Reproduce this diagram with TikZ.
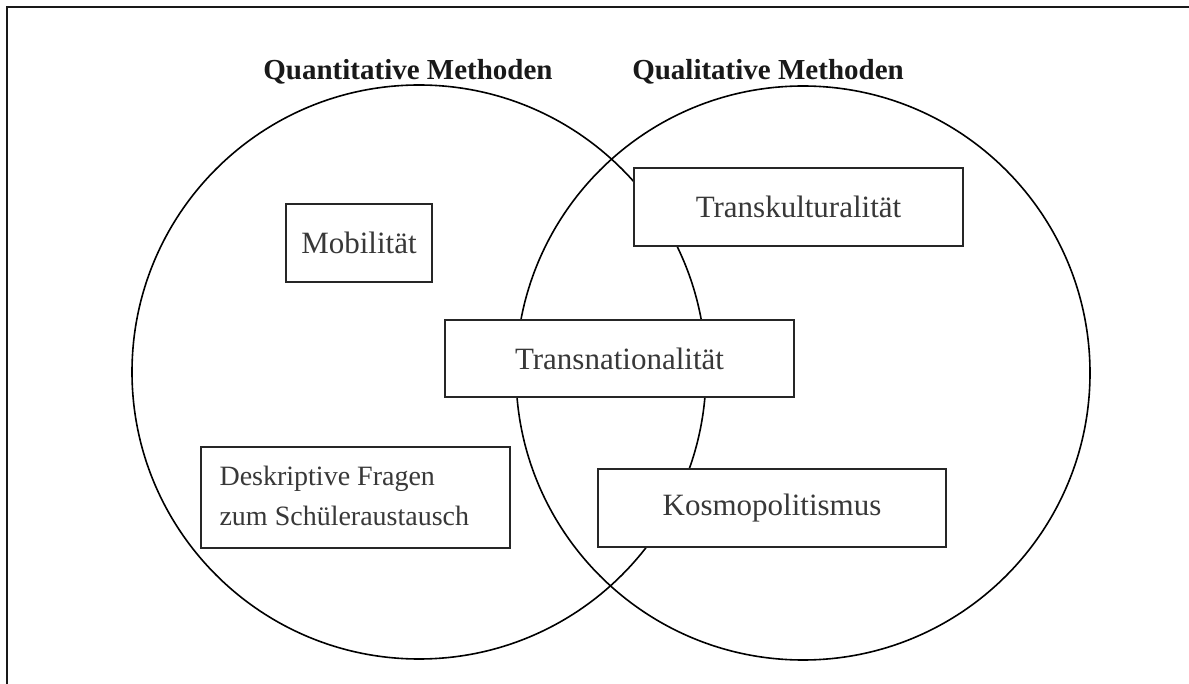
\documentclass[tikz,border=0pt]{standalone}
\usepackage{fontspec}
\setmainfont{Liberation Serif}
\begin{document}
\begin{tikzpicture}[x=1pt,y=-1pt,
  circ/.style={draw=black,line width=1.6pt},
  lbox/.style={draw=black!85,line width=1.3pt,fill=white,inner sep=0pt,
    text=black!78,font=\fontsize{31}{37}\selectfont},
  ttl/.style={font=\bfseries\fontsize{29}{34}\selectfont,text=black!90}]
\useasboundingbox (0,0) rectangle (1189,684);
% frame (cropped)
\coordinate (fa) at (7,684);
\coordinate (fb) at (7,7);
\coordinate (fc) at (1189,7);
\draw[line width=2pt,black!90] (fa) -- (fb) -- (fc);
% circles
\node[circ,circle,minimum size=574pt,inner sep=0pt] (quant) at (419,372) {};
\node[circ,circle,minimum size=574pt,inner sep=0pt] (qual) at (803,373) {};
% titles
\node[ttl] (tquant) at (408,72) {Quantitative Methoden};
\node[ttl] (tqual) at (768,72) {Qualitative Methoden};
% boxes
\node[lbox,minimum width=146pt,minimum height=78pt] (mob) at (359,243) {Mobilität};
\node[lbox,minimum width=329pt,minimum height=78pt] (tk) at (798.5,207) {Transkulturalität};
\node[lbox,minimum width=349pt,minimum height=77pt] (tn) at (619.5,358.5) {Transnationalität};
\node[lbox,minimum width=309pt,minimum height=101pt] (desk) at (355.5,497.5) {};
\node[text=black!78,font=\fontsize{28}{40}\selectfont,align=left,anchor=west] (desktxt) at (216,496) {Deskriptive Fragen\\zum Schüleraustausch};
\node[lbox,minimum width=348pt,minimum height=78pt] (kos) at (772,508) {Kosmopolitismus};
\end{tikzpicture}
\end{document}
